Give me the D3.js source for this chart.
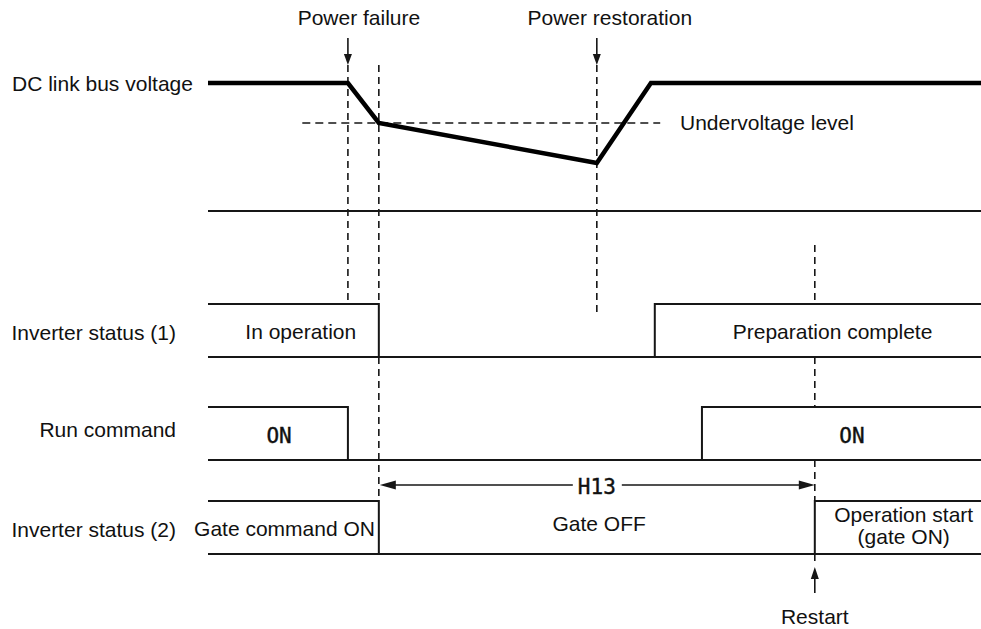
<!DOCTYPE html>
<html lang="en">
<head>
    <meta charset="utf-8">
    <title>Restart after momentary power failure</title>
    <style>
        body { margin: 0; background: #fff; }
        text { font-family: "Liberation Sans", Arial, sans-serif; font-size: 21px; fill: #111; }
        text.mono { font-family: "DejaVu Sans Mono", monospace; font-size: 21px; stroke: #111; stroke-width: 0.4; }
    </style>
</head>
<body>

<div id="timing-chart"></div>

<script src="https://d3js.org/d3.v7.min.js"></script>

<script type="text/javascript">

    // event times on a 0..100 time axis
    var tPowerFailure = 18.1,
        tUndervoltage = 22.1,
        tRestoration = 50.3,
        tRecovered = 57.3,
        tReady = 57.8,
        tRunOn = 63.9,
        tRestart = 78.5;

    // DC link bus voltage (percent of nominal)
    var voltageTimes = [0, tPowerFailure, tUndervoltage, tRestoration, tRecovered, 100];
    var voltageValues = [100, 100, 80, 60, 100, 100];
    var undervoltageLevel = 80;

    // digital signals: change times and levels (1 = high)
    var signalNames = ["Inverter status (1)", "Run command", "Inverter status (2)"];
    var signalTimes = [
        [0, tUndervoltage, tReady],
        [0, tPowerFailure, tRunOn],
        [0, tUndervoltage, tRestart]
    ];
    var signalLevels = [
        [1, 0, 1],
        [1, 0, 1],
        [1, 0, 1]
    ];

    // state texts written inside each signal row
    var stateTexts = [
        [["In operation"], ["Preparation complete"]],
        [["ON"], ["ON"]],
        [["Gate command ON"], ["Gate OFF"], ["Operation start", "(gate ON)"]]
    ];
    var stateTimes = [
        [12.0, 80.8],
        [9.2, 83.3],
        [9.9, 50.6, 90.0]
    ];

    var width = 981, height = 629;

    var svg = d3.select("#timing-chart")
            .append("svg")
            .attr("width", width)
            .attr("height", height);

    var x = d3.scaleLinear().domain([0, 100]).range([208, 981]);
    var yVolt = d3.scaleLinear().domain([60, 100]).range([163, 83]);

    var rowLow = [357, 460, 554],
        rowHeight = 53;
    var yRow = rowLow.map(function (low) {
        return d3.scaleLinear().domain([0, 1]).range([low, low - rowHeight]);
    });

    var ink = "#161616";
    var arrowTop = 38, arrowTip = 65;

    function dashed(xPos, y1, y2) {
        svg.append("line")
                .attr("x1", xPos).attr("x2", xPos)
                .attr("y1", y1).attr("y2", y2)
                .style("stroke", ink)
                .style("stroke-width", 1.6)
                .style("stroke-dasharray", "7,5");
    }

    function solid(x1, y1, x2, y2, w) {
        svg.append("line")
                .attr("x1", x1).attr("y1", y1)
                .attr("x2", x2).attr("y2", y2)
                .style("stroke", ink)
                .style("stroke-width", w || 2);
    }

    // filled arrow head, tip at (tx, ty), pointing in direction (dx, dy)
    function head(tx, ty, dx, dy, len, half) {
        var bx = tx - dx * len, by = ty - dy * len;
        var px = -dy * half, py = dx * half;
        svg.append("path")
                .attr("d", "M" + tx + "," + ty + "L" + (bx + px) + "," + (by + py) + "L" + (bx - px) + "," + (by - py) + "Z")
                .style("fill", ink);
    }

    // vertical dashed guides
    dashed(x(tPowerFailure), arrowTip, yRow[0](1));
    dashed(x(tUndervoltage), arrowTip, yRow[0](1));
    dashed(x(tUndervoltage), rowLow[0], yRow[2](1));
    dashed(x(tRestoration), arrowTip, yRow[0](1) + 13);
    dashed(x(tRestart), 245, yRow[0](1));
    dashed(x(tRestart), rowLow[0], yRow[1](1));
    dashed(x(tRestart), rowLow[1], yRow[2](1));
    dashed(x(tRestart), rowLow[2], rowLow[2] + 8);

    // undervoltage level
    svg.append("line")
            .attr("x1", x(12.2)).attr("x2", x(58.5))
            .attr("y1", yVolt(undervoltageLevel)).attr("y2", yVolt(undervoltageLevel))
            .style("stroke", ink)
            .style("stroke-width", 1.6)
            .style("stroke-dasharray", "8,5");

    svg.append("text")
            .attr("x", 680)
            .attr("y", yVolt(undervoltageLevel) + 7)
            .text("Undervoltage level");

    // power failure / restoration arrows
    [tPowerFailure, tRestoration].forEach(function (t) {
        solid(x(t), arrowTop, x(t), arrowTip - 8, 1.6);
        head(x(t), arrowTip, 0, 1, 11, 4);
    });

    svg.append("text")
            .attr("x", x(tPowerFailure) + 11)
            .attr("y", 25)
            .attr("text-anchor", "middle")
            .text("Power failure");

    svg.append("text")
            .attr("x", x(tRestoration) + 13)
            .attr("y", 25)
            .attr("text-anchor", "middle")
            .text("Power restoration");

    // DC link bus voltage
    var voltageLine = d3.line()
            .x(function (d) { return x(d[0]); })
            .y(function (d) { return yVolt(d[1]); });

    svg.append("path")
            .datum(voltageTimes.map(function (t, i) { return [t, voltageValues[i]]; }))
            .attr("d", voltageLine)
            .style("fill", "none")
            .style("stroke", "#000")
            .style("stroke-width", 4.5)
            .style("stroke-linejoin", "miter");

    svg.append("text")
            .attr("x", 12)
            .attr("y", 91)
            .text("DC link bus voltage");

    solid(x(0), 211, x(100), 211, 1.8);

    // digital signal rows
    var nameDy = [9, 3, 9];

    signalNames.forEach(function (name, r) {
        var pts = signalTimes[r].map(function (t, i) { return [t, signalLevels[r][i]]; });
        pts.push([100, signalLevels[r][signalLevels[r].length - 1]]);

        var stepLine = d3.line()
                .curve(d3.curveStepAfter)
                .x(function (d) { return x(d[0]); })
                .y(function (d) { return yRow[r](d[1]); });

        solid(x(0), rowLow[r], x(100), rowLow[r], 2);

        svg.append("path")
                .datum(pts)
                .attr("d", stepLine)
                .style("fill", "none")
                .style("stroke", ink)
                .style("stroke-width", 2);

        svg.append("text")
                .attr("x", 176)
                .attr("y", rowLow[r] - rowHeight / 2 + nameDy[r])
                .attr("text-anchor", "end")
                .text(name);

        stateTexts[r].forEach(function (lines, k) {
            var cx = x(stateTimes[r][k]);
            var mono = lines[0] === "ON";
            var t = svg.append("text")
                    .attr("class", mono ? "mono" : null)
                    .attr("text-anchor", "middle");
            if (lines.length === 2) {
                t.append("tspan").attr("x", cx).attr("y", rowLow[r] - 32).text(lines[0]);
                t.append("tspan").attr("x", cx).attr("y", rowLow[r] - 10).text(lines[1]);
            } else {
                var dy = r === 1 ? 17 : (lines[0] === "Gate OFF" ? 23 : 18);
                t.attr("x", cx).attr("y", rowLow[r] - dy).text(lines[0]);
            }
        });
    });

    // H13 time span
    var spanY = 485;
    var h13x = x((tUndervoltage + tRestart) / 2);
    solid(x(tUndervoltage) + 10, spanY, h13x - 24, spanY, 1.6);
    solid(h13x + 25, spanY, x(tRestart) - 10, spanY, 1.6);
    head(x(tUndervoltage) + 1, spanY, -1, 0, 16, 4.5);
    head(x(tRestart), spanY, 1, 0, 16, 4.5);

    svg.append("text")
            .attr("class", "mono")
            .attr("x", h13x)
            .attr("y", spanY + 9)
            .attr("text-anchor", "middle")
            .text("H13");

    // restart arrow
    solid(x(tRestart), 593, x(tRestart), 575, 1.6);
    head(x(tRestart), 567, 0, -1, 12, 4);

    svg.append("text")
            .attr("x", x(tRestart))
            .attr("y", 624)
            .attr("text-anchor", "middle")
            .text("Restart");

</script>
</body>
</html>
